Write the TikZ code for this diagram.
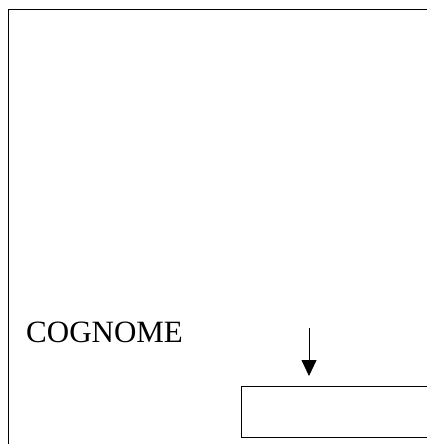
\documentclass[tikz,border=0pt]{standalone}
\usepackage{fontspec}
\setmainfont{Liberation Serif}
\usetikzlibrary{arrows.meta,positioning}
\begin{document}
\begin{tikzpicture}[x=1pt,y=-1pt]
\useasboundingbox (0,0) rectangle (427,444);
\clip (0,0) rectangle (427,444);
% Outer frame
\node[draw, line width=1pt, inner sep=0pt, anchor=north west, minimum width=440pt, minimum height=460pt] (frame) at (7.5,9) {};
% Label
\node[font=\fontsize{31}{36}\selectfont, anchor=base west, inner sep=0pt] (cognome) at (26,342) {COGNOME};
% Field box
\node[draw, line width=1pt, inner sep=0pt, anchor=north west, minimum width=200pt, minimum height=51pt] (field) at (240.5,386) {};
% Arrow
\coordinate (arrowtop) at (309,328);
\draw[line width=0.8pt, -{Triangle[width=15pt,length=16pt]}, shorten >=10pt] (arrowtop) -- (arrowtop |- field.north);
\end{tikzpicture}
\end{document}
